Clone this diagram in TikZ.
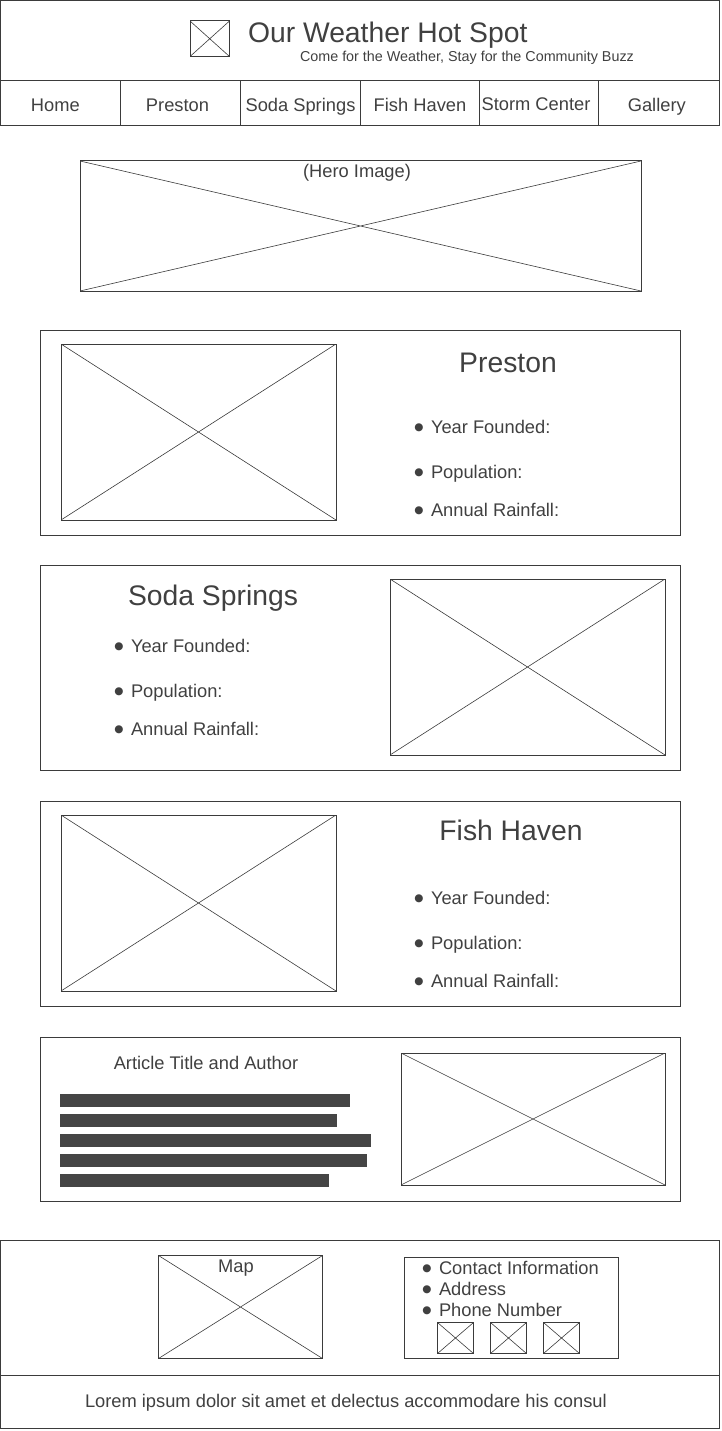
\documentclass[tikz,border=0pt]{standalone}
\usepackage{fontspec}
\setmainfont{Liberation Sans}
\newfontfamily\dejavu{DejaVu Sans}
\definecolor{ink}{HTML}{3B3B3B}
\definecolor{txtc}{HTML}{404040}
\definecolor{barc}{HTML}{454545}
\newcommand\fs[1]{\fontsize{#1}{#1}\selectfont}
\newcommand\blt{\llap{\makebox[0pt]{\raisebox{3pt}{\dejavu\fs{10.5}●}}\hspace{12pt}}}
\tikzset{
 frame/.style={draw=ink, line width=1pt, inner sep=0pt, outer sep=0pt, anchor=north west},
 xbox/.style={frame, path picture={\draw[ink, line width=0.6pt] (path picture bounding box.north west) -- (path picture bounding box.south east) (path picture bounding box.south west) -- (path picture bounding box.north east);}},
 bar/.style={fill=barc, draw=none, inner sep=0pt, outer sep=0pt, anchor=north west, minimum height=13pt},
 lbl/.style={text=txtc, inner sep=0pt, outer sep=0pt, font=\fs{18.3}},
 big/.style={lbl, font=\fs{28.3}},
 navcell/.style={frame, minimum height=45pt},
}
\newcommand\wbox[6][frame]{\node[#1, minimum width={#5-#3}, minimum height={#6-#4}] (#2) at (#3,#4) {};}
\begin{document}
\begin{tikzpicture}[x=1pt,y=-1pt]
\useasboundingbox (0,0) rectangle (722,1431);
% header
\wbox{header}{0.5}{0.5}{719.5}{81}
\wbox[xbox]{logo}{190}{21}{229.5}{56.5}
\node[big, anchor=base west] (title) at (248,43) {Our Weather Hot Spot};
\node[lbl, font=\fs{14.35}, anchor=base west] (tagline) at (300,62) {Come for the Weather, Stay for the Community Buzz};
% navigation
\node[navcell, minimum width=120pt] (navhome) at (0.5,81) {};
\node[navcell, minimum width=119.5pt] (navpreston) at (120.5,81) {};
\node[navcell, minimum width=120pt] (navsoda) at (240,81) {};
\node[navcell, minimum width=119.5pt] (navfish) at (360,81) {};
\node[navcell, minimum width=119pt] (navstorm) at (479.5,81) {};
\node[navcell, minimum width=121pt] (navgallery) at (598.5,81) {};
\node[lbl, anchor=base] (thome) at (55.3,111.5) {Home};
\node[lbl, anchor=base] (tpreston) at (177.5,111.5) {Preston};
\node[lbl, anchor=base] (tsoda) at (300.5,111.5) {Soda Springs};
\node[lbl, anchor=base] (tfish) at (420,111.5) {Fish Haven};
\node[lbl, anchor=base] (tstorm) at (536,110.2) {Storm Center};
\node[lbl, anchor=base] (tgallery) at (656.8,111.5) {Gallery};
% hero
\wbox[xbox]{hero}{80}{161}{641}{291}
\node[lbl, anchor=base] (herolbl) at (357,177.5) {(Hero Image)};
% Preston
\wbox{preston}{40}{330}{680}{535}
\wbox[xbox]{prestonimg}{61}{344}{336}{520}
\node[big, anchor=base] (prestonh) at (508,372) {Preston};
\node[lbl, anchor=base west] (p1) at (431,433) {\blt Year Founded:};
\node[lbl, anchor=base west] (p2) at (431,478) {\blt Population:};
\node[lbl, anchor=base west] (p3) at (431,516) {\blt Annual Rainfall:};
% Soda Springs
\wbox{soda}{40}{565}{680}{770}
\wbox[xbox]{sodaimg}{390}{579}{665}{755}
\node[big, anchor=base] (sodah) at (213,605) {Soda Springs};
\node[lbl, anchor=base west] (s1) at (131,652) {\blt Year Founded:};
\node[lbl, anchor=base west] (s2) at (131,697) {\blt Population:};
\node[lbl, anchor=base west] (s3) at (131,735) {\blt Annual Rainfall:};
% Fish Haven
\wbox{fish}{40}{801}{680}{1006}
\wbox[xbox]{fishimg}{61}{815}{336}{991}
\node[big, anchor=base] (fishh) at (511,840) {Fish Haven};
\node[lbl, anchor=base west] (f1) at (431,904) {\blt Year Founded:};
\node[lbl, anchor=base west] (f2) at (431,949) {\blt Population:};
\node[lbl, anchor=base west] (f3) at (431,987) {\blt Annual Rainfall:};
% Article
\wbox{article}{40}{1037}{680}{1201}
\wbox[xbox]{articleimg}{401}{1053}{665}{1185}
\node[lbl, anchor=base] (arttitle) at (206,1069) {Article Title and Author};
\node[bar, minimum width=290pt] (bar1) at (60,1094) {};
\node[bar, minimum width=277pt] (bar2) at (60,1114) {};
\node[bar, minimum width=311pt] (bar3) at (60,1134) {};
\node[bar, minimum width=307pt] (bar4) at (60,1154) {};
\node[bar, minimum width=269pt] (bar5) at (60,1174) {};
% footer
\wbox{footer}{0.5}{1240.5}{719.5}{1375}
\wbox{bottom}{0.5}{1375}{719.5}{1428.5}
\wbox[xbox]{map}{158.5}{1255.5}{322.5}{1358.5}
\node[lbl, anchor=base] (maplbl) at (236,1272.5) {Map};
\wbox{contact}{404.5}{1257.5}{618.5}{1358.5}
\node[lbl, anchor=base west] (c1) at (439,1274) {\blt Contact Information};
\node[lbl, anchor=base west] (c2) at (439,1295) {\blt Address};
\node[lbl, anchor=base west] (c3) at (439,1316.5) {\blt Phone Number};
\wbox[xbox]{icon1}{437.5}{1322.5}{473.5}{1353.5}
\wbox[xbox]{icon2}{490.5}{1322.5}{526.5}{1353.5}
\wbox[xbox]{icon3}{543.5}{1322.5}{579.5}{1353.5}
\node[lbl, anchor=base west] (lorem) at (85,1407.5) {Lorem ipsum dolor sit amet et delectus accommodare his consul};
\end{tikzpicture}
\end{document}
